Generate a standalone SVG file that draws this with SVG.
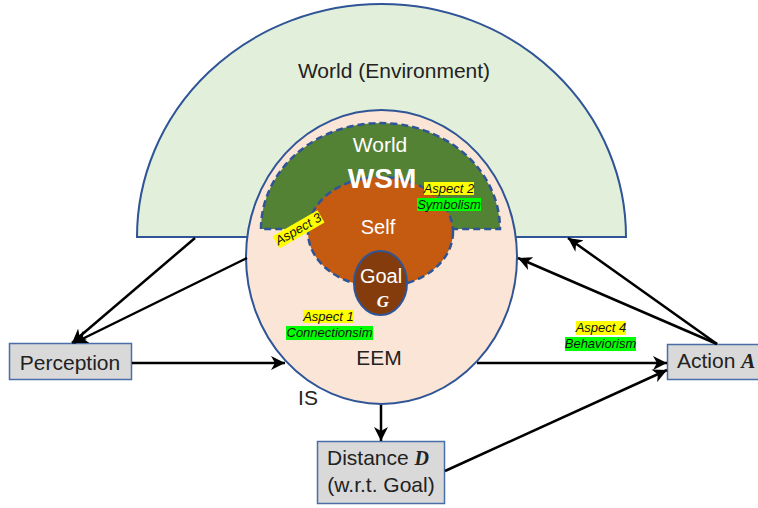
<svg xmlns="http://www.w3.org/2000/svg" width="758" height="508" viewBox="0 0 758 508">
<style>
text{font-family:"Liberation Sans",Arial,sans-serif}
.lbl{font-size:21px;fill:#222}
.wt{fill:#ffffff}
.asp{font-size:13px;font-style:italic;fill:#111}
.box{fill:#D9D9D9;stroke:#4A6EA8;stroke-width:1.5}
.con{stroke:#000;stroke-width:2.5;fill:none;marker-end:url(#arr)}
.scr{font-family:"Liberation Serif","Times New Roman",serif;font-style:italic;font-weight:bold}
.dash{stroke:#2F5597;stroke-width:2.5;stroke-dasharray:7 4}
</style>
<defs>
<marker id="arr" markerUnits="userSpaceOnUse" markerWidth="16" markerHeight="14" refX="14" refY="7" orient="auto">
<path d="M0,0 L14,7 L0,14 L4,7 Z" fill="#000"/>
</marker>
</defs>
<rect width="758" height="508" fill="#fff"/>
<g id="world-env">
<path d="M137,237 A244.5,233 0 0 1 626,237 Z" fill="#E2EFDA" stroke="#2F5597" stroke-width="2"/>
<text class="lbl" x="394" y="78" text-anchor="middle">World (Environment)</text>
</g>
<g id="is">
<ellipse cx="381.5" cy="257" rx="135.5" ry="147" fill="#FBE5D6" stroke="#2F5597" stroke-width="2"/>
<text class="lbl" x="379" y="365" text-anchor="middle" font-size="20">EEM</text>
<text class="lbl" x="308" y="405" text-anchor="middle" font-size="20">IS</text>
</g>
<g id="wsm">
<path d="M261,229 A119.5,106 0 0 1 500,229 Z" fill="#548235" class="dash"/>
<text class="wt" x="380" y="152" text-anchor="middle" font-size="21">World</text>
</g>
<g id="self">
<ellipse cx="380.5" cy="232" rx="72.5" ry="55" fill="#C55A11" class="dash"/>
<text class="wt" x="378" y="234" text-anchor="middle" font-size="20">Self</text>
</g>
<g id="wsm-label">
<text class="wt" x="382" y="188" text-anchor="middle" font-size="28" font-weight="bold">WSM</text>
</g>
<g id="goal">
<ellipse cx="380.5" cy="283" rx="26.5" ry="32" fill="#843C0C" stroke="#2F5597" stroke-width="2"/>
<text class="wt" x="381" y="283" text-anchor="middle" font-size="20">Goal</text>
<text class="wt scr" x="383" y="307" text-anchor="middle" font-size="17">G</text>
</g>
<g id="aspect2">
<rect x="424" y="182" width="50" height="13" fill="#FFFF00"/>
<text class="asp" x="449" y="193" text-anchor="middle">Aspect 2</text>
<rect x="417" y="198" width="64" height="13" fill="#00FF00"/>
<text class="asp" x="449" y="209" text-anchor="middle">Symbolism</text>
</g>
<g id="aspect3" transform="translate(300,232) rotate(-30)">
<rect x="-26" y="-10" width="52" height="14" fill="#FFFF00"/>
<text class="asp" x="0" y="1" text-anchor="middle">Aspect 3</text>
</g>
<g id="aspect1">
<rect x="303" y="310" width="51" height="13" fill="#FFFF00"/>
<text class="asp" x="328.5" y="321" text-anchor="middle">Aspect 1</text>
<rect x="286" y="326" width="87" height="14" fill="#00FF00"/>
<text class="asp" x="329.5" y="337" text-anchor="middle">Connectionsim</text>
</g>
<g id="aspect4">
<rect x="576" y="321" width="50" height="14" fill="#FFFF00"/>
<text class="asp" x="601" y="332" text-anchor="middle">Aspect 4</text>
<rect x="565" y="337" width="71" height="14" fill="#00FF00"/>
<text class="asp" x="600.5" y="348" text-anchor="middle">Behaviorism</text>
</g>
<g id="perception">
<rect class="box" x="9.5" y="343.5" width="122" height="36"/>
<text class="lbl" x="70" y="370" text-anchor="middle">Perception</text>
</g>
<g id="action">
<rect class="box" x="667.5" y="344.5" width="100" height="35"/>
<text class="lbl" x="677" y="368">Action <tspan class="scr" font-size="21">A</tspan></text>
</g>
<g id="distance">
<rect class="box" x="317.5" y="441.5" width="127" height="62"/>
<text class="lbl" x="378" y="465" text-anchor="middle" font-size="20">Distance <tspan class="scr" font-size="20">D</tspan></text>
<text class="lbl" x="381" y="492" text-anchor="middle" font-size="20">(w.r.t. Goal)</text>
</g>
<g id="connectors">
<line class="con" x1="195" y1="238" x2="72" y2="343"/>
<line class="con" x1="247" y1="258" x2="74" y2="343"/>
<line class="con" x1="132" y1="363" x2="285" y2="363"/>
<line class="con" x1="477" y1="363" x2="667" y2="363"/>
<line class="con" x1="445" y1="471" x2="667" y2="370"/>
<line class="con" x1="381" y1="405" x2="381" y2="441"/>
<line class="con" x1="717" y1="344" x2="568" y2="238"/>
<line class="con" x1="717" y1="344" x2="518" y2="258"/>
</g>
</svg>
